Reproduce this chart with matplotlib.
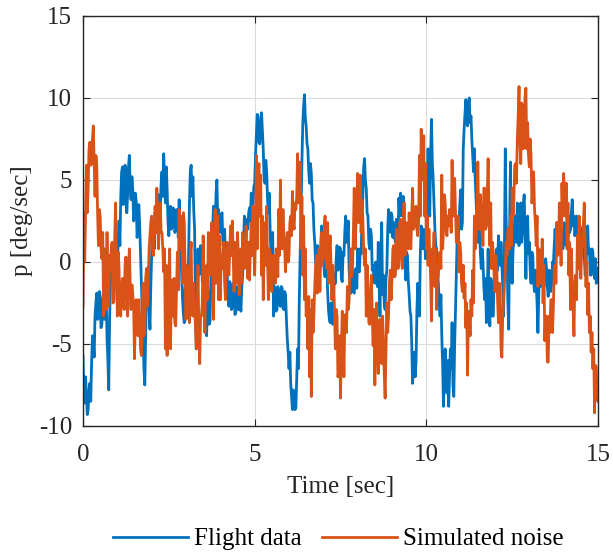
import matplotlib
matplotlib.use("Agg")
import matplotlib.pyplot as plt
import numpy as np

# samples read every 0.05 s, plus a second reading in the middle of each
# 0.05 s slot (the other extreme of the noise band in that slot)
t_main = np.linspace(0, 15, 301)
t_mid = t_main[:-1] + 0.025

flight_data = [
    -5.7, -8.6, -8.2, -9.0, -7.4, -6.2, -4.9, -3.3, -1.9, -3.4,
    -2.4, -3.8, -1.7, -3.0, -4.7, -7.8, -1.3, 0.6, -0.8, 0.4,
    -0.9, 2.5, 4.0, 5.8, 3.6, 5.2, 4.1, 6.5, 3.8, 4.4,
    2.9, 3.7, 2.0, 2.3, -1.5, -4.5, -7.5, -2.0, -0.3, -4.1,
    0.4, 1.8, 3.0, 2.2, 4.1, 3.2, 5.5, 6.6, 3.6, 4.5,
    1.6, 3.4, 2.2, 3.1, 2.0, 2.9, 3.8, 1.2, -2.3, -3.7,
    -1.0, -2.8, 3.5, 5.9, 5.2, 2.0, -5.3, 0.8, -0.4, 0.5,
    -0.3, -2.9, -4.5, -1.8, -3.6, 0.5, 3.4, 2.2, 5.0, 3.2,
    1.8, 3.0, 1.2, 0.2, -0.9, -2.7, -1.5, -2.7, -1.7, -3.1,
    -2.0, -1.0, -3.0, -0.9, 2.8, 1.5, 2.0, 3.3, 4.2, 3.4,
    4.8, 7.7, 8.5, 7.2, 9.1, 6.9, 4.8, 5.5, 3.0, 2.0,
    0.8, -3.3, -1.7, -2.9, -1.9, -2.7, -1.6, -2.9, -2.0, -4.7,
    -6.5, -7.4, -9.0, -8.0, -8.9, -5.3, -2.3, 2.8, 8.3, 10.2,
    8.3, 6.9, 4.8, 5.4, 3.6, 1.2, -0.4, 0.6, -0.4, 2.2,
    1.2, -0.9, 0.2, -2.9, -3.7, -3.3, -2.0, -1.3, 1.0, -0.4,
    0.8, -1.2, 0.4, 2.8, 1.5, -0.4, -1.9, -0.6, -1.9, -0.4,
    0.8, -0.6, 0.5, 4.0, 6.3, 4.5, 2.8, 0.8, 1.6, -0.2,
    -1.3, -0.4, 1.2, -3.3, 2.4, -0.8, -2.9, -0.5, 3.2, 1.8,
    2.8, 2.4, 1.2, 2.5, 3.9, 4.2, 2.8, 3.6, -1.1, 0.4,
    -2.0, -3.3, -7.4, -5.5, -6.1, -1.3, -3.3, 2.2, 0.8, 1.8,
    0.8, 6.9, 2.8, 8.7, 5.0, 2.0, 0.8, -1.3, -3.3, -4.5,
    -8.8, -5.3, -8.0, -8.8, -5.3, -3.7, -8.2, -2.9, 1.6, 2.4,
    4.4, 2.4, 8.1, 9.9, 8.3, 10.0, 8.9, 6.5, 6.9, 3.8,
    1.2, 2.0, -0.4, 0.0, -2.3, -3.7, 0.8, -3.9, -1.3, -3.3,
    -1.3, 0.8, 1.6, -0.2, -0.2, -3.3, 6.9, 0.8, -4.1, 6.1,
    -1.3, 1.2, 2.8, 3.6, 1.0, 3.6, 2.0, 4.1, -1.0, 2.8,
    1.2, -1.3, 0.4, -1.8, -1.3, -4.3, -0.2, -1.3, -0.2, -0.7,
    -0.4, -2.1, -0.8, -1.3, -0.2, 2.0, 2.4, 1.8, 0.8, 2.0,
    1.2, 2.0, 2.4, 2.8, 2.0, 3.8, 2.8, 2.0, 2.4, 1.6,
    0.8, 2.0, 0.4, -0.5, 2.2, 0.8, -0.8, 0.6, -1.0, -1.3,
    -0.4,
]

flight_data_mid = [
    -8.0, -7.0, -9.3, -7.8, -8.5, -4.5, -5.8, -2.5, -3.5, -1.8,
    -4.0, -2.2, -3.5, -1.9, -6.0, -3.5, 0.5, -1.2, 0.8, -1.5,
    1.5, 1.0, 5.5, 3.5, 5.9, 3.0, 5.8, 4.5, 5.2, 2.5,
    4.2, 1.5, 3.5, 0.5, -3.0, -6.5, -4.5, -0.5, -2.8, -1.5,
    2.5, 0.8, 2.0, 3.8, 2.5, 4.8, 4.0, 5.0, 5.8, 2.5,
    3.2, 2.0, 3.3, 1.8, 3.2, 1.5, 2.0, -1.0, -3.2, -1.5,
    -3.0, 0.5, 5.5, 4.0, 3.2, -2.5, -2.0, -0.8, 1.0, -1.2,
    -1.5, -4.0, -2.5, -3.8, -1.0, 2.0, 1.5, 4.2, 2.5, 2.0,
    2.8, 1.0, 2.0, -1.0, -2.0, -1.2, -2.9, -1.3, -3.2, -1.5,
    -2.9, -2.5, -1.5, 0.8, 1.8, 2.6, 3.0, 2.5, 3.6, 4.6,
    6.5, 9.0, 7.3, 8.8, 8.0, 5.0, 6.2, 3.8, 4.2, 0.5,
    1.8, -1.5, -3.0, -1.5, -2.6, -1.5, -2.8, -1.8, -3.5, -5.5,
    -5.5, -8.2, -7.8, -9.0, -7.0, -6.5, 0.5, 6.0, 9.5, 8.8,
    7.2, 5.5, 6.0, 3.8, 2.0, 0.0, 1.0, -0.6, 1.0, 0.8,
    -0.5, 0.8, -1.8, -3.5, -2.5, -3.8, -0.8, 0.2, -0.5, 0.9,
    -1.0, 0.6, 1.8, 1.2, 2.5, -1.5, -0.5, -1.8, -0.5, -1.6,
    -0.5, 0.8, 2.5, 5.8, 5.0, 3.0, 1.2, 2.0, -0.5, -1.2,
    0.0, -1.5, -1.5, 0.5, -2.0, -2.6, -1.0, 2.0, 2.0, 3.0,
    1.5, 1.5, 2.6, 1.5, 2.8, 3.0, 4.0, 1.0, 0.6, -1.2,
    -3.0, -5.0, -6.0, -7.0, -3.0, -2.5, 0.5, 1.0, 2.0, 0.2,
    3.5, 4.0, 6.5, 6.0, 3.5, 1.0, -0.5, -2.5, -2.0, -6.3,
    -6.5, -7.5, -6.0, -7.0, -6.5, -7.5, -5.0, -0.5, 0.8, 3.5,
    2.0, 6.9, 9.0, 8.5, 9.6, 8.5, 7.5, 5.5, 5.0, 2.5,
    2.2, 0.5, 0.8, -1.5, -1.0, -2.0, -2.5, -1.0, -3.3, -1.0,
    0.2, -0.5, 0.5, 1.2, -1.5, 1.0, 2.5, -2.5, 2.0, 0.5,
    0.8, 2.8, 1.2, 2.0, 3.2, 1.2, 3.5, 1.5, 1.5, 0.5,
    -0.5, 0.6, -1.2, -0.5, -2.5, -2.0, -1.5, 0.0, -1.5, 0.2,
    -1.5, -0.5, -1.8, 0.0, 1.0, 0.8, 1.5, 0.5, 2.0, 0.8,
    2.4, 1.0, 1.6, 1.8, 3.0, 2.2, 1.6, 2.8, 1.2, 2.2,
    1.8, 0.5, -0.8, 1.2, 0.5, -0.8, 0.8, -0.6, 0.2, -0.6,
]

simulated_noise = [
    -2.7, 0.0, 5.9, 4.5, 7.3, 6.0, 8.3, 4.0, 6.0, 1.0,
    2.8, 0.2, -3.3, -2.0, 1.8, -2.7, -0.5, 1.2, -2.3, 3.6,
    -3.3, -0.4, -3.3, -1.0, -2.9, 0.3, -3.3, 0.8, -2.9, -2.0,
    -5.9, -2.3, -4.5, -3.3, -5.7, -1.3, -4.3, -0.4, -1.3, 1.6,
    2.8, 0.4, 3.4, 4.5, 0.8, 3.6, 1.8, -0.6, -5.3, -5.7,
    -0.8, -5.3, -2.7, -1.0, -3.9, 0.6, 3.2, 2.0, -1.3, 2.4,
    -3.5, -0.4, -3.7, 1.2, -3.3, -2.7, -5.3, -0.2, -6.2, -3.3,
    1.6, -4.3, -0.2, 1.8, -0.8, 2.4, -3.5, 3.2, 0.0, -2.3,
    -2.3, -0.4, 1.2, -2.3, 1.2, -0.8, 2.2, 2.5, -1.8, 0.8,
    1.8, -2.0, 0.8, 1.8, -0.4, 2.2, -1.0, -1.1, 2.4, 3.4,
    -0.8, 6.5, 5.0, 2.8, -0.8, -2.3, 2.4, 3.4, -2.3, 0.6,
    -1.8, 0.4, -1.3, 0.5, 3.2, 5.0, 0.8, 1.6, -0.6, 1.8,
    0.4, 2.8, 4.3, 2.0, 3.2, 6.6, 4.0, 0.8, -0.8, -2.3,
    -3.3, -5.3, -7.0, -8.2, -4.3, -1.5, 0.4, -1.3, -1.8, 1.8,
    0.2, 2.8, -0.4, -1.3, 1.6, -2.3, -1.3, -5.3, -3.3, -6.7,
    -8.3, -3.0, -7.0, -3.2, -1.5, -2.4, 0.8, -0.4, 4.5, 2.2,
    5.4, 3.6, 1.8, 2.6, -0.2, -3.3, -1.5, -3.8, -0.8, -5.1,
    -7.5, -2.5, -6.8, -3.5, -6.2, -4.8, -8.3, -2.5, -3.3, -0.5,
    -1.0, 1.0, -0.8, 1.0, -0.2, 2.6, -0.4, 3.6, 0.6, 2.2,
    3.0, 0.8, 4.5, 2.2, 3.4, 1.6, 6.5, 8.1, 5.0, 2.8,
    0.8, -0.2, 0.4, -3.6, 0.0, -1.5, -2.9, -0.9, 0.6, 5.3,
    2.0, 3.6, 1.6, 2.2, 3.0, 6.2, 3.0, 3.0, 1.2, -0.6,
    0.6, -1.8, -2.2, -4.0, -6.9, -3.0, -2.3, -0.5, 2.8, 1.4,
    6.1, 2.0, 2.8, 1.0, 4.5, 2.2, 6.3, 1.0, -0.4, 0.6,
    -1.8, -0.2, -3.7, -2.0, -5.8, -2.3, -0.6, 0.4, 2.0, 2.8,
    4.5, 3.8, 6.0, 7.5, 10.7, 6.0, 9.5, 8.0, 10.6, 8.5,
    5.8, 6.5, 4.3, 3.3, 1.0, -1.5, 0.6, -0.5, -2.5, -4.8,
    -3.3, -6.1, -4.3, -2.3, -2.8, -0.2, 2.4, 0.8, 2.0, 4.8,
    5.4, 2.8, 0.8, -0.8, -2.9, -1.3, -4.5, -0.8, 1.6, 2.8,
    -1.0, 1.0, 3.6, -1.5, -3.2, -4.3, -5.5, -6.5, -9.2, -6.4,
    -8.5,
]

simulated_noise_mid = [
    3.0, 2.8, 3.0, 6.9, 5.9, 7.5, 6.0, 6.5, 3.0, 3.2,
    0.8, 1.8, 0.8, -2.9, -2.1, 0.4, 1.0, -2.5, 1.6, -0.2,
    0.6, -3.0, -1.5, -2.3, -0.2, -1.5, -0.4, -1.3, -1.4, -2.7,
    -3.3, -4.3, -2.3, -5.3, -4.3, -4.5, -1.0, -2.7, 0.8, 2.4,
    0.9, 2.0, 1.8, 2.4, 2.8, 1.8, 0.8, 0.8, -0.2, -1.3,
    0.8, -1.1, -3.3, -3.7, -1.7, -1.7, 0.8, 2.8, 3.0, -0.4,
    -0.2, -2.9, 0.4, -2.9, -1.3, -3.9, -3.3, -4.3, -3.3, -2.5,
    -1.3, -1.3, -2.3, 0.8, 0.8, 0.4, 0.8, -1.3, 2.8, 1.6,
    0.4, 0.8, -1.3, 0.2, -0.4, 0.8, 0.4, 0.4, 1.2, -1.3,
    0.4, 0.4, -1.3, -0.2, 0.8, 0.4, 1.2, 0.8, 0.4, 1.2,
    1.8, 0.8, 6.0, 5.3, 2.8, 0.8, -0.2, 0.0, 0.8, -1.1,
    0.4, -0.4, 0.8, -0.9, 0.4, 1.2, 3.2, 0.8, 1.2, 0.0,
    2.4, 1.6, 2.4, 3.6, 4.0, 3.6, 6.1, 4.0, 2.8, 0.8,
    -2.3, -2.1, -2.9, -2.3, -3.3, -0.2, -1.9, 0.8, 0.4, -0.2,
    2.0, 0.8, 2.4, 0.8, -0.4, -0.2, -2.9, -2.9, -7.0, -4.5,
    -5.3, -4.1, -3.3, -4.3, -2.9, -0.4, -0.9, 1.8, 0.8, 3.6,
    2.4, 5.3, 3.8, 0.8, 0.8, -0.2, -3.7, -2.3, -3.3, -2.9,
    -4.3, -5.3, -4.5, -5.3, -3.3, -6.9, -5.3, -4.3, -1.3, -2.3,
    0.8, -0.9, 2.0, -0.4, 2.4, 0.8, 2.0, 0.4, 2.4, 0.8,
    1.2, 2.8, 2.0, 3.2, 2.0, 2.4, 2.8, 5.9, 7.7, 6.0,
    2.8, 2.0, -0.9, 0.8, 1.8, 0.8, -0.9, 0.4, -0.4, 0.8,
    4.1, 2.0, 2.8, 3.2, 1.8, 2.8, 5.1, 1.2, 2.8, 1.2,
    -1.3, -0.2, -1.3, -2.5, -3.3, -4.5, -3.3, -2.5, 0.8, 2.8,
    2.0, 4.1, 1.6, 4.5, 2.0, 4.1, 2.8, 3.6, 1.2, -0.9,
    0.4, -2.3, -1.3, -5.3, -3.3, -1.3, 1.2, 2.0, 0.8, 1.0,
    2.8, 5.9, 4.8, 8.9, 7.3, 9.7, 6.9, 10.1, 6.9, 6.5,
    7.5, 3.6, 5.5, 2.4, 2.8, 0.8, -1.3, 1.4, -0.2, -3.3,
    -6.1, -3.3, -2.3, -4.3, -0.4, -1.3, 0.4, 3.6, -0.2, 2.8,
    3.8, 4.8, 3.6, 1.2, 0.8, -2.9, -1.3, -2.3, -0.4, 0.8,
    0.8, 2.4, 1.2, 0.0, -1.3, -3.3, -4.3, -5.3, -6.3, -8.4,
]

x_ticks = [0, 5, 10, 15]
y_ticks = [-10, -5, 0, 5, 10, 15]


def merge(main, mid):
    tt = np.concatenate([t_main, t_mid])
    vv = np.concatenate([main, mid])
    order = np.argsort(tt)
    return tt[order], vv[order]


plt.rcParams["font.family"] = ["Liberation Serif", "DejaVu Serif"]
plt.rcParams["font.size"] = 18
plt.rcParams["axes.unicode_minus"] = False

fig = plt.figure(figsize=(6.13, 5.54), dpi=100)
ax = fig.add_axes([83 / 613, 1 - 426 / 554, 515 / 613, 410 / 554])

tb, vb = merge(flight_data, flight_data_mid)
to, vo = merge(simulated_noise, simulated_noise_mid)
ax.plot(tb, vb, color="#0072BD", linewidth=2.0, label="Flight data")
ax.plot(to, vo, color="#D95319", linewidth=2.0, label="Simulated noise")

ax.set_xlim(0, 15)
ax.set_ylim(-10, 15)
ax.set_xticks(x_ticks)
ax.set_yticks(y_ticks)
ax.grid(True, color="#dcdcdc", linewidth=0.8)
ax.set_axisbelow(True)
ax.tick_params(direction="in", top=True, right=True, length=5,
               color="#262626", labelcolor="#262626")
ax.tick_params(axis="x", pad=13)
ax.tick_params(axis="y", pad=8)
for s in ax.spines.values():
    s.set_color("#262626")
    s.set_linewidth(1.0)

ax.set_xlabel("Time [sec]", color="#262626", labelpad=7)
ax.set_ylabel("p [deg/sec]", color="#262626", labelpad=4)

fig.legend(loc="center", bbox_to_anchor=(338.5 / 613, 1 - 539 / 554), ncol=2,
           frameon=False, handlelength=3.0, handletextpad=0.25,
           columnspacing=0.8, borderpad=0.2)

fig.savefig("out.png", dpi=100)
